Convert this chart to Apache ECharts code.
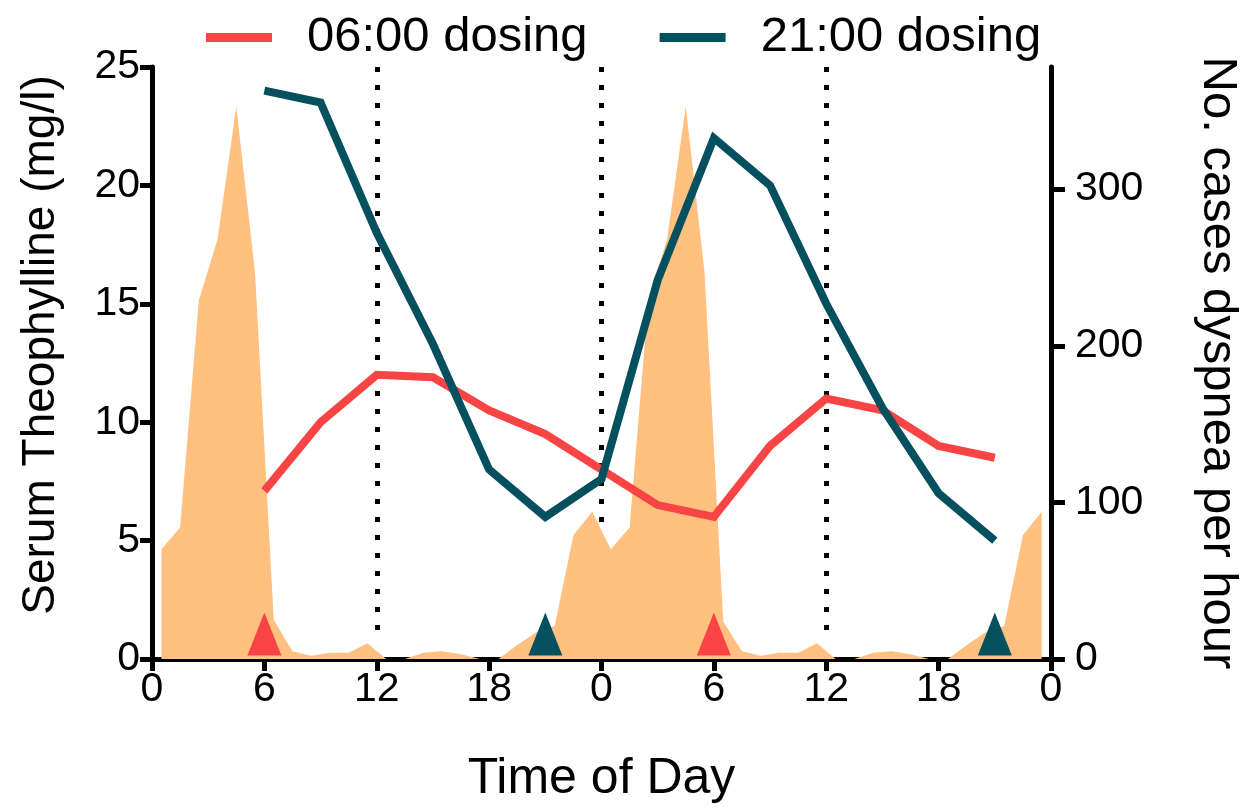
<!DOCTYPE html>
<html>
<head>
<meta charset="utf-8">
<script src="https://cdn.jsdelivr.net/npm/echarts@6/dist/echarts.min.js"></script>
<style>
html,body{margin:0;padding:0;background:#fff;}
#chart{width:1259px;height:809px;}
</style>
</head>
<body>
<div id="chart"></div>
<script>
// ---- data ----
const doseHours = [6, 9, 12, 15, 18, 21, 24, 27, 30, 33, 36, 39, 42, 45];
const dosing0600 = [7.1, 10, 12, 11.9, 10.5, 9.5, 8, 6.5, 6, 9, 11, 10.5, 9, 8.5];
const dosing2100 = [24, 23.5, 18, 13.3, 8, 6, 7.6, 16, 22, 20, 15, 10.6, 7, 5];

const dyspneaHours = [0.5,1.5,2.5,3.5,4.5,5.5,6.5,7.5,8.5,9.5,10.5,11.5,12.5,13.5,14.5,15.5,16.5,17.5,18.5,19.5,20.5,21.5,22.5,23.5,
                      24.5,25.5,26.5,27.5,28.5,29.5,30.5,31.5,32.5,33.5,34.5,35.5,36.5,37.5,38.5,39.5,40.5,41.5,42.5,43.5,44.5,45.5,46.5,47.5];
const dyspneaCases = [70,84,229,268,353,247,25,5,2,4,4,10,0,0,4,5,3,0,0,9,17,21,79,94,
                      70,84,229,268,353,247,24,5,2,4,4,10,0,0,4,5,3,0,0,9,17,21,79,94];

const dose0600Times = [6, 30];
const dose2100Times = [21, 45];
const dividerHours = [12, 24, 36];
const rightTicks = [0, 100, 200, 300];

// ---- build ----
const RED = '#F84444';
const TEAL = '#05505F';
const ORANGE = '#FFC080';
const FONT = "'Liberation Sans', Arial, Helvetica, sans-serif";

const pairs = (xs, ys) => xs.map((x, i) => [x, ys[i]]);

const chart = echarts.init(document.getElementById('chart'), null, {renderer: 'canvas'});

const axisLineStyle = {color: '#000', width: 5};

const option = {
  backgroundColor: '#fff',
  animation: false,
  textStyle: {fontFamily: FONT, color: '#000'},
  legend: {
    data: ['06:00 dosing', '21:00 dosing'],
    left: 201,
    top: 8,
    icon: 'rect',
    itemWidth: 66,
    itemHeight: 9,
    itemGap: 72,
    textStyle: {fontSize: 49, color: '#000', fontFamily: FONT, padding: [0, 0, 0, 30]}
  },
  grid: {left: 152, right: 208, top: 67, bottom: 147, containLabel: false},
  xAxis: {
    type: 'value',
    min: 0, max: 48, interval: 6,
    name: 'Time of Day',
    nameLocation: 'middle',
    nameGap: 95,
    nameTextStyle: {fontSize: 50, color: '#000', fontFamily: FONT},
    axisLine: {show: true, onZero: false, lineStyle: axisLineStyle},
    axisTick: {show: true, inside: false, length: 12, lineStyle: {color: '#000', width: 5}},
    axisLabel: {fontSize: 41, color: '#000', margin: 10, fontFamily: FONT,
      formatter: v => String(v % 24)},
    splitLine: {show: false}
  },
  yAxis: [
    {
      type: 'value', min: 0, max: 25, interval: 5,
      position: 'left',
      name: 'Serum Theophylline (mg/l)',
      nameLocation: 'middle',
      nameRotate: 90,
      nameGap: 88,
      nameTextStyle: {fontSize: 46, color: '#000', fontFamily: FONT, padding: [0, 0, 0, 36]},
      axisLine: {show: true, lineStyle: axisLineStyle},
      axisTick: {show: true, inside: false, length: 12, lineStyle: {color: '#000', width: 5}},
      axisLabel: {fontSize: 41, color: '#000', margin: 12, fontFamily: FONT},
      splitLine: {show: false}
    },
    {
      type: 'value', min: 0, max: 378,
      position: 'right',
      name: 'No. cases dyspnea per hour',
      nameLocation: 'middle',
      nameRotate: -90,
      nameGap: 142,
      nameTextStyle: {fontSize: 49, color: '#000', fontFamily: FONT},
      axisLine: {show: true, lineStyle: axisLineStyle},
      axisTick: {show: true, inside: false, length: 14, customValues: rightTicks, lineStyle: {color: '#000', width: 5}},
      axisLabel: {fontSize: 41, color: '#000', margin: 24, fontFamily: FONT, customValues: rightTicks},
      splitLine: {show: false}
    }
  ],
  series: [
    {
      name: 'dividers',
      type: 'line',
      data: [],
      z: 1,
      silent: true,
      markLine: {
        z: 1,
        silent: true,
        symbol: ['none', 'none'],
        label: {show: false},
        lineStyle: {color: '#000', width: 5, type: [5, 13]},
        data: dividerHours.map(h => [{coord: [h, 25]}, {coord: [h, 0.7]}])
      }
    },
    {
      name: 'Dyspnea',
      type: 'line',
      yAxisIndex: 1,
      z: 2,
      showSymbol: false,
      symbol: 'none',
      lineStyle: {width: 0},
      areaStyle: {color: ORANGE, opacity: 1},
      data: pairs(dyspneaHours, dyspneaCases)
    },
    {
      name: '06:00 dosing',
      type: 'line',
      z: 3,
      symbol: 'none',
      itemStyle: {color: RED},
      lineStyle: {color: RED, width: 8, join: 'miter'},
      data: pairs(doseHours, dosing0600)
    },
    {
      name: '21:00 dosing',
      type: 'line',
      z: 4,
      symbol: 'none',
      itemStyle: {color: TEAL},
      lineStyle: {color: TEAL, width: 8, join: 'miter'},
      data: pairs(doseHours, dosing2100)
    },
    {
      name: 'dose06',
      type: 'scatter',
      z: 5,
      symbol: 'triangle',
      symbolSize: [34, 43],
      symbolOffset: [0, -25],
      itemStyle: {color: RED, opacity: 1},
      data: dose0600Times.map(t => [t, 0])
    },
    {
      name: 'dose21',
      type: 'scatter',
      z: 5,
      symbol: 'triangle',
      symbolSize: [34, 43],
      symbolOffset: [0, -25],
      itemStyle: {color: TEAL, opacity: 1},
      data: dose2100Times.map(t => [t, 0])
    }
  ]
};
chart.setOption(option);
</script>
</body>
</html>
